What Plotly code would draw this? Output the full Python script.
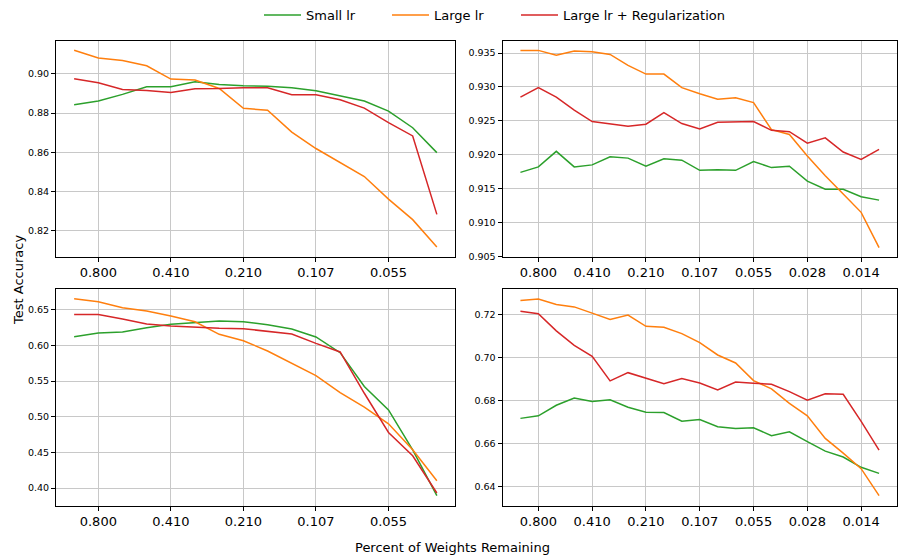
import plotly.graph_objects as go

# ---------------- data ----------------
tick_labels_left = ["0.800", "0.410", "0.210", "0.107", "0.055"]
tick_labels_right = ["0.800", "0.410", "0.210", "0.107", "0.055", "0.028", "0.014"]
tick_pos_left = [1, 4, 7, 10, 13]
tick_pos_right = [1, 4, 7, 10, 13, 16, 19]

rounds_left = list(range(16))
rounds_right = list(range(21))

# top-left
tl_small = [0.8842, 0.8861, 0.8895, 0.8934, 0.8934, 0.8959, 0.8946, 0.8939,
            0.8937, 0.8929, 0.8914, 0.8886, 0.8861, 0.8810, 0.8725, 0.8598]
tl_large = [0.9120, 0.9081, 0.9068, 0.9041, 0.8973, 0.8968, 0.8925, 0.8824,
            0.8814, 0.8703, 0.8619, 0.8547, 0.8476, 0.8361, 0.8256, 0.8117]
tl_reg = [0.8975, 0.8954, 0.8920, 0.8915, 0.8905, 0.8924, 0.8925, 0.8929,
          0.8929, 0.8893, 0.8893, 0.8868, 0.8825, 0.8751, 0.8683, 0.8283]

# top-right
tr_small = [0.9174, 0.9182, 0.9205, 0.9182, 0.9185, 0.9197, 0.9195, 0.9183,
            0.9194, 0.9192, 0.9177, 0.9178, 0.9177, 0.9190, 0.9181, 0.9183,
            0.9161, 0.9149, 0.9149, 0.9138, 0.9133]
tr_large = [0.9354, 0.9354, 0.9347, 0.9353, 0.9352, 0.9348, 0.9332, 0.9319,
            0.9319, 0.9299, 0.9290, 0.9282, 0.9284, 0.9277, 0.9237, 0.9230,
            0.9198, 0.9169, 0.9142, 0.9115, 0.9063]
tr_reg = [0.9285, 0.9299, 0.9285, 0.9266, 0.9249, 0.9245, 0.9242, 0.9245,
          0.9262, 0.9246, 0.9238, 0.9248, 0.9249, 0.9249, 0.9236, 0.9234,
          0.9217, 0.9225, 0.9204, 0.9193, 0.9208]

# bottom-left
bl_small = [0.6122, 0.6174, 0.6188, 0.6248, 0.6295, 0.6323, 0.6341, 0.6332,
            0.6290, 0.6229, 0.6118, 0.5898, 0.5423, 0.5096, 0.4536, 0.3893]
bl_large = [0.6654, 0.6612, 0.6528, 0.6481, 0.6411, 0.6332, 0.6155, 0.6066,
            0.5922, 0.5749, 0.5576, 0.5339, 0.5133, 0.4900, 0.4536, 0.4103]
bl_reg = [0.6435, 0.6435, 0.6369, 0.6299, 0.6271, 0.6253, 0.6239, 0.6234,
          0.6201, 0.6160, 0.6029, 0.5908, 0.5329, 0.4779, 0.4452, 0.3930]

# bottom-right
br_small = [0.6718, 0.6730, 0.6779, 0.6812, 0.6796, 0.6804, 0.6770, 0.6747,
            0.6745, 0.6705, 0.6713, 0.6679, 0.6671, 0.6674, 0.6638, 0.6656,
            0.6610, 0.6566, 0.6539, 0.6491, 0.6463]
br_large = [0.7265, 0.7272, 0.7246, 0.7235, 0.7206, 0.7177, 0.7197, 0.7145,
            0.7141, 0.7111, 0.7069, 0.7012, 0.6975, 0.6893, 0.6855, 0.6788,
            0.6730, 0.6625, 0.6557, 0.6485, 0.6360]
br_reg = [0.7215, 0.7203, 0.7124, 0.7057, 0.7006, 0.6892, 0.6930, 0.6906,
          0.6879, 0.6903, 0.6882, 0.6850, 0.6887, 0.6881, 0.6876, 0.6842,
          0.6802, 0.6832, 0.6830, 0.6704, 0.6571]

series_names = ["Small lr", "Large lr", "Large lr + Regularization"]
colors = ["#2ca02c", "#ff7f0e", "#d62728"]
legend_ids = ["legend", "legend2", "legend3"]

panels = [
    ("x", "y", rounds_left, [tl_small, tl_large, tl_reg]),
    ("x2", "y2", rounds_right, [tr_small, tr_large, tr_reg]),
    ("x3", "y3", rounds_left, [bl_small, bl_large, bl_reg]),
    ("x4", "y4", rounds_right, [br_small, br_large, br_reg]),
]

fig = go.Figure()
for pi, (xa, ya, xs, ser) in enumerate(panels):
    for si, ys in enumerate(ser):
        fig.add_trace(go.Scatter(
            x=xs, y=ys, mode="lines", xaxis=xa, yaxis=ya,
            name=series_names[si], legendgroup=series_names[si],
            legend=legend_ids[si],
            showlegend=(pi == 0),
            line=dict(color=colors[si], width=1.5),
        ))

W, H = 898, 555
font = "DejaVu Sans, Verdana, sans-serif"

def xdom(a, b):
    return [a / W, b / W]

def ydom(top, bottom):
    return [1 - bottom / H, 1 - top / H]

common_axis = dict(
    showline=True, mirror=True, linecolor="black", linewidth=1,
    ticks="outside", ticklen=4, tickcolor="black", tickwidth=1,
    showgrid=True, gridcolor="#c8c8c8", gridwidth=1, zeroline=False,
    automargin=False,
)
xfont = dict(family=font, size=13, color="black")
yfont = dict(family=font, size=9.5, color="black")

def leg(xpix):
    return dict(orientation="h", x=(xpix - 5) / W, xanchor="left",
                y=1 - 15 / H, yanchor="middle",
                font=dict(family=font, size=13, color="black"),
                itemwidth=37, bgcolor="rgba(0,0,0,0)", borderwidth=0)

layout = dict(
    template="none",
    width=W, height=H,
    margin=dict(l=0, r=0, t=0, b=0, autoexpand=False),
    plot_bgcolor="white", paper_bgcolor="white",
    font=dict(family=font, color="black"),
    showlegend=True,
    legend=leg(264), legend2=leg(392), legend3=leg(521),
    xaxis=dict(domain=xdom(56, 455), range=[-0.75, 15.75],
               tickvals=tick_pos_left, ticktext=tick_labels_left,
               tickfont=xfont, anchor="y", **common_axis),
    yaxis=dict(domain=ydom(40.5, 256.7), range=[0.8067, 0.9170],
               dtick=0.02, tick0=0, tickformat=".2f",
               tickfont=yfont, anchor="x", **common_axis),
    xaxis2=dict(domain=xdom(502.5, 897), range=[-1, 21],
                tickvals=tick_pos_right, ticktext=tick_labels_right,
                tickfont=xfont, anchor="y2", **common_axis),
    yaxis2=dict(domain=ydom(40.5, 256.7), range=[0.90495, 0.93686],
                dtick=0.005, tick0=0, tickformat=".3f",
                tickfont=yfont, anchor="x2", **common_axis),
    xaxis3=dict(domain=xdom(56, 455), range=[-0.75, 15.75],
                tickvals=tick_pos_left, ticktext=tick_labels_left,
                tickfont=xfont, anchor="y3", **common_axis),
    yaxis3=dict(domain=ydom(289, 505.5), range=[0.3755, 0.6791],
                dtick=0.05, tick0=0, tickformat=".2f",
                tickfont=yfont, anchor="x3", **common_axis),
    xaxis4=dict(domain=xdom(502.5, 897), range=[-1, 21],
                tickvals=tick_pos_right, ticktext=tick_labels_right,
                tickfont=xfont, anchor="y4", **common_axis),
    yaxis4=dict(domain=ydom(289, 505.5), range=[0.6314, 0.7318],
                dtick=0.02, tick0=0, tickformat=".2f",
                tickfont=yfont, anchor="x4", **common_axis),
    annotations=[
        dict(text="Test Accuracy", x=18 / W, y=1 - 280 / H, xref="paper",
             yref="paper", textangle=-90, showarrow=False,
             xanchor="center", yanchor="middle",
             font=dict(family=font, size=13, color="black")),
        dict(text="Percent of Weights Remaining", x=452 / W, y=1 - 547 / H,
             xref="paper", yref="paper", showarrow=False,
             xanchor="center", yanchor="middle",
             font=dict(family=font, size=13, color="black")),
    ],
)
fig.update_layout(**layout)
fig.write_html(
    "out.html",
    config={"displayModeBar": False},
    post_script="document.body.style.margin='0';"
                "document.body.style.overflow='hidden';",
)
